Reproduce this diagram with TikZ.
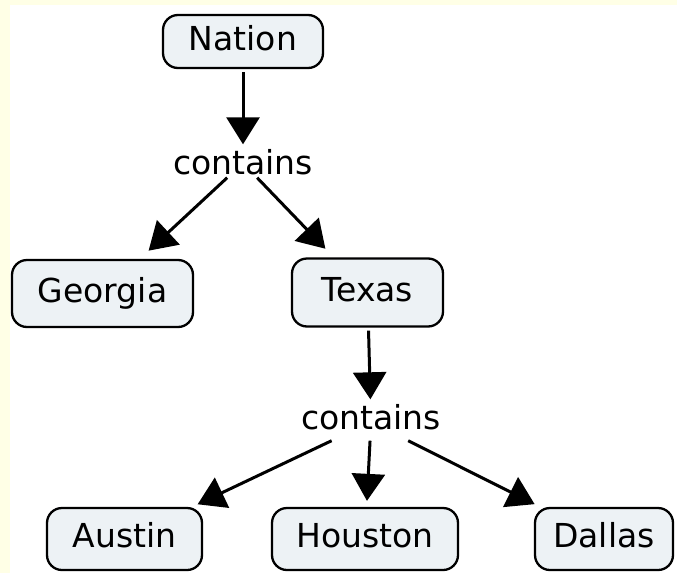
\documentclass[tikz,border=0pt]{standalone}
\usepackage{fontspec}
\setmainfont{DejaVu Sans}
\usetikzlibrary{arrows.meta}
\definecolor{boxfill}{HTML}{EDF2F5}
\definecolor{bgyellow}{HTML}{FFFFE6}
\tikzset{
  concept/.style={draw=black, line width=2.3pt, fill=boxfill, rounded corners=15pt,
    font=\fontsize{33}{40}\selectfont, text height=24pt, text depth=7pt,
    inner sep=0pt, minimum height=63pt},
  linkword/.style={font=\fontsize{33}{40}\selectfont, inner sep=2pt, text height=24pt, text depth=1pt},
  arr/.style={line width=3pt, -{Triangle[width=33pt,length=27pt]}}
}
\begin{document}
\begin{tikzpicture}[x=1pt,y=-1pt]
\useasboundingbox (0,0) rectangle (677,573);
\fill[white] (0,0) rectangle (677,573);
\fill[bgyellow] (0,0) rectangle (677,5);
\fill[bgyellow] (0,0) rectangle (10,573);
\node[concept, minimum width=160pt, minimum height=53pt] (nation) at (243,41.5) {Nation};
\node[linkword] (c1) at (243,163) {contains};
\node[concept, minimum width=181pt, minimum height=67pt] (georgia) at (102.5,293.5) {Georgia};
\node[concept, minimum width=151pt, minimum height=68pt] (texas) at (367.5,292.5) {Texas};
\node[linkword, text depth=9pt] (c2) at (371,422) {contains};
\node[concept, minimum width=155pt, minimum height=62pt] (austin) at (124.5,539) {Austin};
\node[concept, minimum width=186pt, minimum height=62pt] (houston) at (365,539) {Houston};
\node[concept, minimum width=138pt, minimum height=62pt] (dallas) at (604,539) {Dallas};
\draw[arr, shorten <=3pt, shorten >=4pt] (nation) -- (c1);
\draw[arr, shorten >=12pt] (c1) -- (georgia);
\draw[arr, shorten >=12pt] (c1) -- (texas);
\draw[arr, shorten <=3pt, shorten >=4pt] (texas) -- (c2);
\draw[arr, shorten >=6pt] (c2) -- (austin);
\draw[arr, shorten >=6pt] (c2) -- (houston);
\draw[arr, shorten >=6pt] (c2) -- (dallas);
\end{tikzpicture}
\end{document}
